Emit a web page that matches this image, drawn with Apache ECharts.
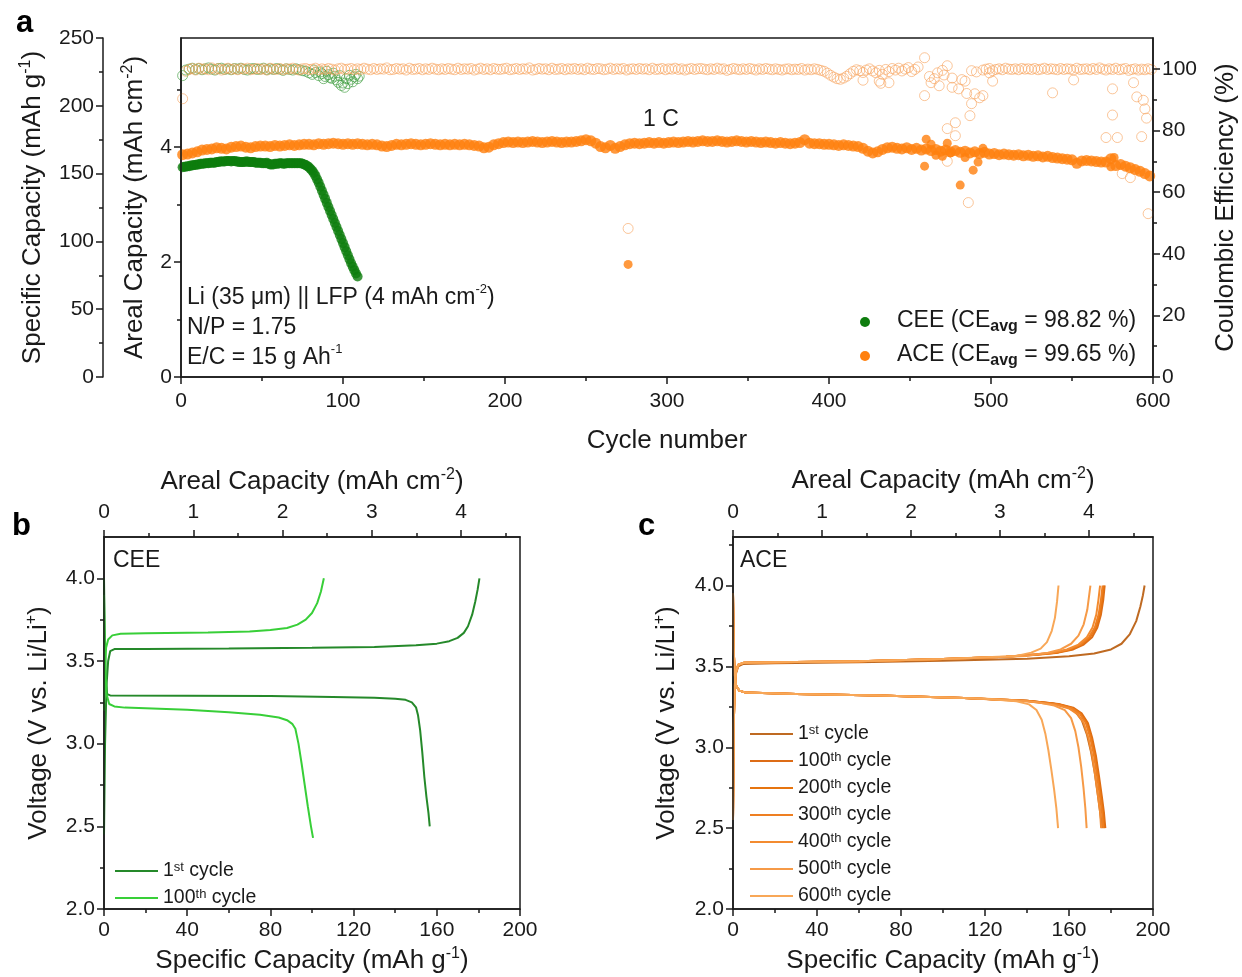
<!DOCTYPE html>
<html><head><meta charset="utf-8">
<script src="https://cdn.jsdelivr.net/npm/echarts@6/dist/echarts.min.js"></script>
<style>html,body{margin:0;padding:0;background:#fff}#c{width:1242px;height:977px}</style>
</head><body><div id="c"></div><script>
// ---------------- tick values ----------------
const CYCLE_TICKS = [0,100,200,300,400,500,600];
const CYCLE_MINOR = [50,150,250,350,450,550];
const SPEC_A_TICKS = [0,50,100,150,200,250];
const SPEC_A_MINOR = [25,75,125,175,225];
const AREAL_A_TICKS = [0,2,4];
const AREAL_A_MINOR = [1,3,5];
const CE_TICKS = [0,20,40,60,80,100];
const CE_MINOR = [10,30,50,70,90];
const V_TICKS = [2.0,2.5,3.0,3.5,4.0];
const V_MINOR_B = [2.25,2.75,3.25,3.75];
const V_MINOR_C = [2.25,2.75,3.25,3.75,4.25];
const SPEC_BC_TICKS = [0,40,80,120,160,200];
const SPEC_BC_MINOR = [20,60,100,140,180];
const AREAL_BC_TICKS = [0,1,2,3,4];
const AREAL_BC_MINOR = [0.5,1.5,2.5,3.5,4.5];

// ---------------- panel a data ----------------
// CEE areal capacity, cycles 1..109
const CEE_CAP = [3.65,3.66,3.66,3.67,3.67,3.68,3.68,3.69,3.69,3.70,
 3.70,3.71,3.71,3.71,3.72,3.72,3.72,3.73,3.73,3.73,
 3.73,3.74,3.74,3.75,3.75,3.75,3.75,3.76,3.76,3.76,
 3.75,3.76,3.76,3.75,3.75,3.74,3.74,3.74,3.74,3.75,
 3.75,3.74,3.74,3.74,3.74,3.73,3.73,3.73,3.73,3.72,
 3.72,3.72,3.73,3.71,3.70,3.70,3.70,3.71,3.71,3.71,
 3.72,3.72,3.71,3.71,3.72,3.72,3.72,3.72,3.72,3.72,
 3.72,3.72,3.72,3.72,3.71,3.70,3.69,3.67,3.65,3.62,
 3.59,3.55,3.50,3.44,3.38,3.31,3.24,3.17,3.10,3.03,
 2.96,2.89,2.82,2.75,2.68,2.61,2.54,2.47,2.40,2.33,
 2.26,2.19,2.12,2.05,1.98,1.92,1.86,1.80,1.75];
// CEE coulombic efficiency, cycles 1,3,...,109
const CEE_CE = [97.8,99.6,99.9,100.2,99.8,100.1,99.7,100.0,100.3,99.9,
 99.6,100.1,100.2,99.8,100.0,99.7,100.1,99.9,100.2,99.8,
 99.6,100.0,100.1,99.8,99.9,100.2,99.7,100.0,99.8,100.1,
 99.9,99.5,100.0,99.8,99.6,100.0,99.7,99.4,99.2,98.7,
 98.2,98.8,97.8,98.4,97.5,98.1,96.9,97.6,95.6,94.6,
 94.0,95.2,96.6,97.4,96.8];
const CEE_CE_X2 = [82,86,88,90,92,94,96,98,100,102,104,106,108,110];
const CEE_CE_Y2 = [99.6,99.0,96.8,99.2,97.2,98.6,96.4,97.8,95.4,96.8,97.9,95.8,98.2,97.6];

// ACE areal capacity, cycles 1,4,7,...,598
const ACE_CAP = [
 3.87,3.88,3.90,3.92,3.95,3.96,3.97,3.99,3.98,3.97,4.00,4.01,4.02,4.00,3.99,4.01,4.02,4.02,4.01,4.03,
 4.02,4.03,4.04,4.03,4.04,4.05,4.05,4.04,4.06,4.05,4.06,4.07,4.06,4.05,4.06,4.05,4.06,4.05,4.04,4.05,
 4.04,4.02,4.01,4.03,4.05,4.04,4.05,4.06,4.05,4.04,4.05,4.06,4.05,4.04,4.05,4.04,4.05,4.04,4.05,4.04,
 4.03,4.02,3.99,4.00,4.04,4.06,4.08,4.09,4.08,4.09,4.08,4.09,4.10,4.09,4.08,4.09,4.10,4.09,4.08,4.09,
 4.09,4.10,4.11,4.13,4.11,4.07,4.01,3.99,4.03,3.98,4.01,4.04,4.06,4.07,4.06,4.07,4.08,4.07,4.08,4.07,
 4.08,4.09,4.08,4.09,4.10,4.09,4.10,4.11,4.10,4.10,4.11,4.10,4.09,4.10,4.11,4.10,4.09,4.10,4.09,4.08,
 4.09,4.08,4.07,4.08,4.07,4.06,4.07,4.08,4.13,4.07,4.06,4.06,4.05,4.05,4.04,4.03,4.04,4.03,4.02,4.01,
 3.98,3.93,3.90,3.92,3.96,3.99,4.00,3.98,3.97,3.99,3.96,3.98,3.95,3.97,3.94,3.96,3.93,3.95,3.92,3.94,
 3.91,3.93,3.90,3.92,3.89,3.91,3.88,3.89,3.87,3.88,3.87,3.86,3.87,3.85,3.86,3.84,3.85,3.83,3.84,3.82,
 3.81,3.80,3.79,3.78,3.72,3.76,3.77,3.76,3.75,3.74,3.74,3.80,3.68,3.70,3.67,3.64,3.61,3.58,3.54,3.50];
const ACE_CAP_OX = [276,459,460,463,466,470,473,475,481,484,489,492,495,574,576];
const ACE_CAP_OY = [1.96,3.67,4.14,4.05,3.86,3.84,4.07,3.90,3.34,3.82,3.60,3.74,3.98,3.66,3.82];

// ACE coulombic efficiency, cycles 1,3,...,599 (null = no point in the main band)
const ACE_CE = [
 90.3,99.2,99.8,100.1,99.6,100.2,99.9,100.0,99.7,100.3,99.8,100.1,99.6,99.9,100.2,99.8,100.0,99.7,100.1,99.9,
 100.2,99.7,99.9,100.1,99.8,100.0,99.6,100.2,99.9,99.8,100.1,99.7,100.0,99.9,100.2,99.8,99.6,100.0,100.1,99.8,
 99.9,100.2,99.7,100.0,99.8,100.1,99.9,99.6,100.0,100.2,99.8,99.9,100.1,99.7,100.0,99.8,100.2,99.9,99.7,100.1,
 99.8,100.0,99.9,100.3,99.7,99.8,100.1,99.9,100.0,99.6,100.2,99.8,99.9,100.1,99.7,100.0,99.8,100.2,99.9,99.7,
 100.0,99.8,100.1,99.9,99.7,100.2,99.8,100.0,99.9,100.1,99.6,99.9,100.2,99.8,100.0,99.7,100.1,99.9,99.8,100.0,
 100.2,99.7,99.9,100.1,99.8,100.0,99.9,100.3,99.6,99.8,100.1,99.9,100.0,99.7,100.2,99.8,99.9,100.1,99.7,100.0,
 99.9,100.1,99.8,100.0,99.7,100.2,99.9,99.8,100.1,100.0,99.7,99.9,100.2,99.8,100.0,99.9,100.1,99.6,99.9,100.0,
 99.8,100.1,99.9,100.0,99.7,100.2,99.8,99.9,100.1,99.7,100.0,99.9,100.2,99.8,100.0,99.6,99.9,100.1,99.8,100.0,
 100.1,99.9,99.7,100.0,99.8,100.2,99.9,100.0,99.5,99.8,100.1,99.9,99.7,100.0,99.8,100.1,99.9,99.6,100.0,99.8,
 100.1,99.9,99.7,100.0,99.8,99.6,99.9,100.0,99.7,99.9,99.8,100.1,99.6,99.9,99.7,100.0,99.8,99.5,99.2,98.6,
 97.9,97.3,96.8,96.6,97.0,97.6,98.4,99.2,99.7,99.4,98.8,99.6,100.0,99.3,98.7,99.5,98.2,99.8,99.1,100.1,
 99.6,100.2,99.3,99.9,100.4,99.1,99.8,100.6,null,null,null,null,null,null,null,null,null,null,null,null,
 null,null,null,null,null,null,null,99.6,99.9,100.1,99.4,99.8,100.0,99.7,100.2,99.9,99.8,100.0,99.7,100.1,
 99.9,100.0,99.8,100.1,99.7,99.9,100.2,99.8,100.0,99.9,99.7,100.1,99.8,100.0,99.9,99.6,100.2,99.8,99.9,100.0,
 99.7,100.1,99.8,100.3,99.9,99.6,100.0,99.8,100.2,99.7,99.9,100.1,99.5,99.8,100.0,99.6,99.9,99.7,100.0,99.8];
const ACE_CE_OX = [276,421,431,432,437,459,459,462,463,465,467,468,470,471,473,473,473,476,476,478,478,480,482,484,485,486,487,488,488,490,491,493,495,499,501,538,551,571,575,575,578,581,586,588,590,593,594,595,596,597];
const ACE_CE_OY = [48.2,96.3,96.0,95.3,95.5,103.6,91.3,97.5,95.5,96.8,98.7,94.5,99.5,98.0,101.0,80.6,70.0,97.0,94.0,82.5,78.3,93.5,96.5,96.0,92.0,56.6,84.8,88.7,99.4,91.9,99.0,90.6,91.3,98.7,96.0,92.2,96.4,77.7,93.5,85.0,77.7,66.0,64.7,95.5,90.9,78.0,89.8,87.0,84.0,53.0];

// ---------------- panel b data (specific capacity, voltage) ----------------
const B1_CHG = [[0,2.45],[0.5,3.0],[1.2,3.35],[2,3.5],[3,3.56],[5,3.572],[20,3.573],[60,3.575],[100,3.58],[130,3.585],[150,3.595],[160,3.605],[166,3.62],[170,3.64],[173,3.67],[175,3.71],[177,3.78],[178.5,3.86],[179.6,3.93],[180.5,4.0]];
const B1_DIS = [[0,4.0],[0.3,3.7],[0.8,3.4],[1.5,3.3],[3,3.292],[40,3.29],[80,3.288],[110,3.283],[130,3.278],[140,3.272],[145,3.265],[148,3.25],[150,3.22],[151,3.17],[152,3.08],[153,2.95],[154,2.8],[155,2.68],[156,2.58],[156.6,2.5]];
const B100_CHG = [[0,3.2],[0.5,3.45],[1,3.58],[2,3.63],[4,3.655],[8,3.665],[20,3.668],[50,3.672],[70,3.678],[80,3.688],[88,3.70],[93,3.72],[97,3.75],[100,3.79],[102.5,3.85],[104.3,3.92],[105.7,4.0]];
const B100_DIS = [[0,3.9],[0.5,3.5],[1.2,3.3],[2.5,3.24],[5,3.225],[10,3.218],[40,3.205],[60,3.19],[75,3.175],[84,3.158],[88,3.142],[90.5,3.12],[92,3.09],[93.5,3.0],[95,2.88],[96.5,2.75],[98,2.62],[99.5,2.5],[100.5,2.43]];

// ---------------- panel c data ----------------
const C_CHG_HEAD = [[0,2.55],[0.3,3.1],[0.8,3.38],[1.5,3.47],[2.5,3.51],[5,3.522],[20,3.525],[60,3.532],[100,3.545],[130,3.56]];
const C_DIS_HEAD = [[0,3.95],[0.3,3.62],[0.8,3.45],[1.5,3.38],[3,3.35],[6,3.338],[30,3.33],[70,3.32],[110,3.305]];
const C1_CHG = [[0,2.55],[0.3,3.1],[0.8,3.38],[1.5,3.46],[2.5,3.5],[5,3.515],[20,3.52],[60,3.525],[100,3.535],[140,3.548],[160,3.562],[172,3.58],[180,3.605],[185,3.64],[189,3.7],[192,3.78],[194,3.87],[195.2,3.94],[196,4.0]];
const C1_DIS_TAIL = [[140,3.288],[152,3.272],[159,3.25],[163,3.22],[166,3.17],[168.5,3.08],[170.5,2.97],[172.3,2.84],[173.8,2.7],[175,2.58],[175.8,2.5]];
const C100_CHG_TAIL = [[145,3.572],[155,3.585],[162,3.605],[167,3.635],[171,3.68],[173.5,3.74],[175.2,3.82],[176.3,3.91],[177,4.0]];
const C200_CHG_TAIL = [[145,3.573],[154,3.585],[161,3.605],[166,3.635],[170,3.68],[172.8,3.74],[174.6,3.82],[175.8,3.91],[176.5,4.0]];
const C300_CHG_TAIL = [[145,3.575],[153,3.585],[160,3.605],[165.5,3.635],[169.5,3.68],[172.3,3.74],[174.1,3.82],[175.2,3.91],[176,4.0]];
const C400_CHG_TAIL = [[144,3.575],[152,3.585],[159,3.605],[164.5,3.635],[168.5,3.68],[171.2,3.74],[173,3.82],[174,3.91],[174.8,4.0]];
const C500_CHG_TAIL = [[140,3.565],[150,3.585],[156,3.605],[161,3.64],[164.5,3.69],[167,3.76],[168.7,3.85],[169.5,3.93],[170.2,4.0]];
const C600_CHG_TAIL = [[135,3.565],[142,3.585],[146.5,3.61],[149.5,3.65],[151.8,3.72],[153.3,3.8],[154.3,3.9],[155,4.0]];
const C100_DIS_TAIL = [[140,3.288],[155,3.268],[162,3.245],[166,3.21],[169,3.15],[171,3.06],[172.8,2.95],[174.3,2.82],[175.6,2.7],[176.6,2.6],[177.3,2.5]];
const C200_DIS_TAIL = [[140,3.287],[155,3.266],[161.5,3.243],[165.5,3.21],[168.6,3.15],[170.6,3.06],[172.4,2.95],[173.9,2.82],[175.2,2.7],[176.2,2.6],[176.8,2.5]];
const C300_DIS_TAIL = [[140,3.286],[154,3.266],[161,3.243],[165,3.21],[168,3.15],[170.1,3.06],[171.9,2.95],[173.4,2.82],[174.7,2.7],[175.7,2.6],[176.3,2.5]];
const C400_DIS_TAIL = [[140,3.285],[153,3.265],[160,3.24],[164,3.205],[167,3.15],[169.2,3.06],[171,2.95],[172.5,2.82],[173.8,2.7],[174.8,2.6],[175.3,2.5]];
const C500_DIS_TAIL = [[130,3.295],[145,3.278],[153,3.258],[158,3.23],[161,3.18],[163,3.1],[164.5,3.0],[165.8,2.88],[166.9,2.75],[167.8,2.62],[168.4,2.5]];
const C600_DIS_TAIL = [[120,3.30],[135,3.285],[141,3.265],[144.5,3.23],[147,3.17],[148.8,3.08],[150.2,2.98],[151.6,2.86],[152.9,2.74],[154,2.62],[154.8,2.5]];

const LEGEND_TEXT = {b1:'1{sup|st} cycle', b100:'100{sup|th} cycle', c1:'1{sup|st} cycle', c100:'100{sup|th} cycle', c200:'200{sup|th} cycle', c300:'300{sup|th} cycle', c400:'400{sup|th} cycle', c500:'500{sup|th} cycle', c600:'600{sup|th} cycle'};

// ---------------- styling ----------------
const FONT = "'Liberation Sans', Arial, sans-serif";
const INK = '#1a1a1a';
const GREEN = '#0e7d0e', GREEN_O = '#3b9a3b';
const ORANGE = '#ff800e', ORANGE_O = '#f7a35e';
const B_COL = {b1:'#25892a', b100:'#38cf38'};
const C_COL = {c1:'#bf6a22', c100:'#dd6c17', c200:'#e6740f', c300:'#ee7f22', c400:'#f38b30', c500:'#f69a47', c600:'#f8a757'};
const RICH = {
  sup:{fontSize:13, lineHeight:12, verticalAlign:'top', fontFamily:FONT, color:INK, fill:INK},
  sub:{fontSize:16, lineHeight:10, verticalAlign:'bottom', fontWeight:'bold', fontFamily:FONT, color:INK, fill:INK}
};
const RICH_T = {
  sup:{fontSize:16, lineHeight:14, verticalAlign:'top', fontFamily:FONT, color:INK}
};

function pairs(xs, ys){ const o=[]; xs.forEach((x,i)=>{ if(ys[i]!=null) o.push([x,ys[i]]); }); return o; }
function cycles(start, step, n){ const o=[]; for(let i=0;i<n;i++) o.push(start+i*step); return o; }

function ax(o){
  return {
    type:'value', gridIndex:o.grid, position:o.pos, offset:o.offset||0, min:o.min, max:o.max,
    axisLine:{show:o.line!==false, onZero:false, lineStyle:{color:INK, width:1.5}},
    axisTick:{show:true, inside:false, length:o.len||7, customValues:o.ticks, lineStyle:{color:INK, width:1.5}},
    axisLabel:{show:!!o.labels, customValues:o.labels?o.ticks:undefined, margin:o.margin||9, fontSize:o.fs||21, fontFamily:FONT, color:INK, formatter:o.fmt||(v=>String(v))},
    splitLine:{show:false}, minorTick:{show:false}, splitArea:{show:false},
    name:o.name||'', nameLocation:'middle', nameGap:o.nameGap||30, nameRotate:o.rot||0,
    nameTextStyle:{fontSize:26, fontFamily:FONT, color:INK, lineHeight:30, rich:RICH_T},
    silent:true, z:5
  };
}
const minor = (o)=>ax(Object.assign({line:false, len:4}, o));
const vfmt = v=>v.toFixed(1);

const xAxis = [
  ax({grid:0,pos:'bottom',min:0,max:600,ticks:CYCLE_TICKS,labels:true,fs:21,margin:14,name:'Cycle number',nameGap:49}),
  minor({grid:0,pos:'bottom',min:0,max:600,ticks:CYCLE_MINOR}),
  ax({grid:1,pos:'bottom',min:0,max:200,ticks:SPEC_BC_TICKS,labels:true,margin:11,name:'Specific Capacity (mAh g{sup|-1})',nameGap:37}),
  minor({grid:1,pos:'bottom',min:0,max:200,ticks:SPEC_BC_MINOR}),
  ax({grid:1,pos:'top',min:0,max:4.66,ticks:AREAL_BC_TICKS,labels:true,margin:14,name:'Areal Capacity (mAh cm{sup|-2})',nameGap:40}),
  minor({grid:1,pos:'top',min:0,max:4.66,ticks:AREAL_BC_MINOR}),
  ax({grid:2,pos:'bottom',min:0,max:200,ticks:SPEC_BC_TICKS,labels:true,margin:11,name:'Specific Capacity (mAh g{sup|-1})',nameGap:37}),
  minor({grid:2,pos:'bottom',min:0,max:200,ticks:SPEC_BC_MINOR}),
  ax({grid:2,pos:'top',min:0,max:4.72,ticks:AREAL_BC_TICKS,labels:true,margin:14,name:'Areal Capacity (mAh cm{sup|-2})',nameGap:41}),
  minor({grid:2,pos:'top',min:0,max:4.72,ticks:AREAL_BC_MINOR})
];
const yAxis = [
  ax({grid:0,pos:'left',offset:78,min:0,max:250,ticks:SPEC_A_TICKS,labels:true,fs:21,name:'Specific Capacity (mAh g{sup|-1})',nameGap:47,rot:90}),
  minor({grid:0,pos:'left',offset:78,min:0,max:250,ticks:SPEC_A_MINOR}),
  ax({grid:0,pos:'left',min:0,max:5.9,ticks:AREAL_A_TICKS,labels:true,fs:21,name:'Areal Capacity (mAh cm{sup|-2})',nameGap:31,rot:90}),
  minor({grid:0,pos:'left',min:0,max:5.9,ticks:AREAL_A_MINOR}),
  ax({grid:0,pos:'right',min:0,max:110,ticks:CE_TICKS,labels:true,fs:21,name:'Coulombic Efficiency (%)',nameGap:58,rot:90}),
  minor({grid:0,pos:'right',min:0,max:110,ticks:CE_MINOR}),
  ax({grid:1,pos:'left',min:2,max:4.25,ticks:V_TICKS,labels:true,fmt:vfmt,name:'Voltage (V vs. Li/Li{sup|+})',nameGap:50,rot:90}),
  minor({grid:1,pos:'left',min:2,max:4.25,ticks:V_MINOR_B}),
  ax({grid:2,pos:'left',min:2,max:4.3,ticks:V_TICKS,labels:true,fmt:vfmt,name:'Voltage (V vs. Li/Li{sup|+})',nameGap:51,rot:90}),
  minor({grid:2,pos:'left',min:2,max:4.3,ticks:V_MINOR_C})
];

const hollow = (name, data, col) => ({type:'scatter', name, xAxisIndex:0, yAxisIndex:4, data, symbol:'circle', symbolSize:10,
  itemStyle:{color:'rgba(0,0,0,0)', borderColor:col, borderWidth:0.8}, silent:true, z:2});
const filled = (name, data, col, sz) => ({type:'scatter', name, xAxisIndex:0, yAxisIndex:2, data, symbol:'circle', symbolSize:sz||10,
  itemStyle:{color:col}, silent:true, z:3});
const curve = (name, data, col, xi, yi) => ({type:'line', name, xAxisIndex:xi, yAxisIndex:yi, data, symbol:'none', showSymbol:false,
  lineStyle:{color:col, width:2}, itemStyle:{color:col}, silent:true, smooth:false, z:3});

const series = [
  hollow('CEE_CE', pairs(cycles(1,2,CEE_CE.length), CEE_CE), GREEN_O),
  hollow('CEE_CE2', pairs(CEE_CE_X2, CEE_CE_Y2), GREEN_O),
  hollow('ACE_CE', pairs(cycles(1,2,ACE_CE.length), ACE_CE), ORANGE_O),
  hollow('ACE_CE_O', pairs(ACE_CE_OX, ACE_CE_OY), ORANGE_O),
  filled('CEE_CAP', pairs(cycles(1,1,CEE_CAP.length), CEE_CAP), GREEN, 10),
  filled('ACE_CAP', pairs(cycles(1,3,ACE_CAP.length), ACE_CAP), ORANGE, 11),
  filled('ACE_CAP_O', pairs(ACE_CAP_OX, ACE_CAP_OY), ORANGE, 9),
  curve('b1', B1_CHG, B_COL.b1, 2, 6), curve('b1', B1_DIS, B_COL.b1, 2, 6),
  curve('b100', B100_CHG, B_COL.b100, 2, 6), curve('b100', B100_DIS, B_COL.b100, 2, 6)
];
const C_SETS = [
  ['c1', C1_CHG, C_DIS_HEAD.concat(C1_DIS_TAIL)],
  ['c100', C_CHG_HEAD.concat(C100_CHG_TAIL), C_DIS_HEAD.concat(C100_DIS_TAIL)],
  ['c200', C_CHG_HEAD.concat(C200_CHG_TAIL), C_DIS_HEAD.concat(C200_DIS_TAIL)],
  ['c300', C_CHG_HEAD.concat(C300_CHG_TAIL), C_DIS_HEAD.concat(C300_DIS_TAIL)],
  ['c400', C_CHG_HEAD.concat(C400_CHG_TAIL), C_DIS_HEAD.concat(C400_DIS_TAIL)],
  ['c500', C_CHG_HEAD.concat(C500_CHG_TAIL), C_DIS_HEAD.concat(C500_DIS_TAIL)],
  ['c600', C_CHG_HEAD.filter(p=>p[0]<=120).concat(C600_CHG_TAIL), C_DIS_HEAD.concat(C600_DIS_TAIL)]
];
C_SETS.forEach(([n,chg,dis])=>{ series.push(curve(n, chg, C_COL[n], 6, 8)); series.push(curve(n, dis, C_COL[n], 6, 8)); });

const gridBase = {show:true, borderColor:INK, borderWidth:1.5, backgroundColor:'rgba(0,0,0,0)', containLabel:false, outerBoundsMode:'none'};
const legendBase = {orient:'vertical', icon:'rect', itemWidth:43, itemHeight:2, itemGap:7, selectedMode:false,
  formatter:n=>LEGEND_TEXT[n], textStyle:{fontSize:19.5, fontFamily:FONT, color:INK, lineHeight:20, rich:RICH}};

const txt = (left, top, text, size, extra) => ({type:'text', left, top, silent:true,
  style:Object.assign({text, fontSize:size, fontFamily:FONT, fill:INK, lineHeight:Math.round(size*1.3), rich:RICH}, extra||{})});

const option = {
  animation:false,
  backgroundColor:'#fff',
  grid:[
    Object.assign({left:181, top:38, width:972, height:339}, gridBase),
    Object.assign({left:104, top:537, width:416, height:372}, gridBase),
    Object.assign({left:733, top:537, width:420, height:372}, gridBase)
  ],
  xAxis, yAxis, series,
  legend:[
    Object.assign({data:['b1','b100'], left:110, top:856}, legendBase),
    Object.assign({data:['c1','c100','c200','c300','c400','c500','c600'], left:745, top:719}, legendBase)
  ],
  graphic:[
    txt(16, 3, 'a', 31, {fontWeight:'bold', fill:'#000'}),
    txt(12, 506, 'b', 31, {fontWeight:'bold', fill:'#000'}),
    txt(638, 506, 'c', 31, {fontWeight:'bold', fill:'#000'}),
    txt(643, 105, '1 C', 23),
    txt(187, 283, 'Li (35 \u03bcm) || LFP (4 mAh cm{sup|-2})\nN/P = 1.75\nE/C = 15 g Ah{sup|-1}', 23, {lineHeight:30}),
    {type:'circle', silent:true, shape:{cx:865, cy:322, r:5}, style:{fill:GREEN}},
    {type:'circle', silent:true, shape:{cx:865, cy:356, r:5}, style:{fill:ORANGE}},
    txt(897, 307, 'CEE (CE{sub|avg} = 98.82 %)', 23, {lineHeight:28}),
    txt(897, 341, 'ACE (CE{sub|avg} = 99.65 %)', 23, {lineHeight:28}),
    txt(113, 546, 'CEE', 23),
    txt(740, 546, 'ACE', 23)
  ]
};
const chart = echarts.init(document.getElementById('c'), null, {renderer:'canvas'});
chart.setOption(option);
</script></body></html>
